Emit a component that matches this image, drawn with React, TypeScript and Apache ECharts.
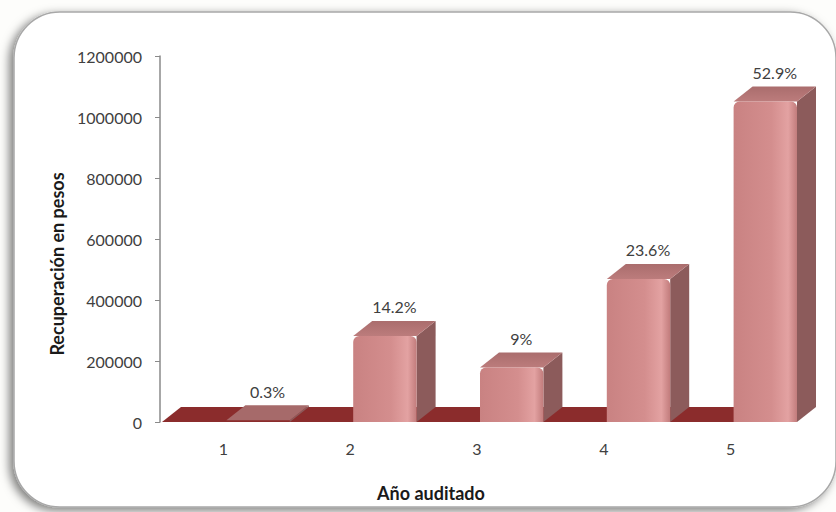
import React, { useEffect, useRef } from "react";
import * as echarts from "echarts";

const categories = ["1", "2", "3", "4", "5"];
const values = [6000, 282000, 179000, 469000, 1051000];
const percentLabels = ["0.3%", "14.2%", "9%", "23.6%", "52.9%"];
const yMin = 0;
const yMax = 1200000;
const yInterval = 200000;
const xTitle = "Año auditado";
const yTitle = "Recuperación en pesos";

const FONT = "Lato, 'Open Sans', sans-serif";
const DX = 19;
const DY = 15;

export default function App() {
  const ref = useRef<HTMLDivElement>(null);

  useEffect(() => {
    if (!ref.current) return;
    const chart = echarts.init(ref.current, null, { renderer: "svg" });

    const frontGrad = new echarts.graphic.LinearGradient(0, 0, 1, 0, [
      { offset: 0, color: "#C98282" },
      { offset: 0.6, color: "#D48E8E" },
      { offset: 0.86, color: "#E3A2A2" },
      { offset: 1, color: "#C27C7C" },
    ]);
    const topGrad = new echarts.graphic.LinearGradient(0, 1, 0, 0, [
      { offset: 0, color: "#BC7C7C" },
      { offset: 1, color: "#AA6D6D" },
    ]);

    const option: any = {
      animation: false,
      backgroundColor: "#fdfdfb",
      graphic: [
        {
          type: "rect",
          z: -10,
          shape: { x: 14, y: 12, width: 822, height: 495, r: 46 },
          style: {
            fill: "#ffffff",
            stroke: "#a8a8a8",
            lineWidth: 1.5,
            shadowBlur: 10,
            shadowColor: "rgba(0,0,0,0.5)",
            shadowOffsetX: -4,
            shadowOffsetY: 3,
          },
        },
        {
          type: "text",
          x: 57,
          y: 264,
          rotation: Math.PI / 2,
          style: {
            text: yTitle,
            align: "center",
            verticalAlign: "middle",
            font: `bold 18px ${FONT}`,
            fill: "#1a1a1a",
          },
        },
        {
          type: "text",
          x: 431,
          y: 493,
          style: {
            text: xTitle,
            align: "center",
            verticalAlign: "middle",
            font: `bold 18px ${FONT}`,
            fill: "#1a1a1a",
          },
        },
      ],
      grid: { left: 160, right: 42, top: 56, bottom: 90 },
      xAxis: {
        type: "category",
        data: categories,
        axisLine: { show: false },
        axisTick: { show: false },
        axisLabel: {
          margin: 18,
          fontFamily: FONT,
          fontSize: 16,
          color: "#404040",
        },
      },
      yAxis: {
        type: "value",
        min: yMin,
        max: yMax,
        interval: yInterval,
        splitLine: { show: false },
        axisLine: { show: true, lineStyle: { color: "#8a8a8a", width: 1.5 } },
        axisTick: { show: true, length: 5, lineStyle: { color: "#8a8a8a" } },
        axisLabel: {
          margin: 18,
          fontFamily: FONT,
          fontSize: 16,
          color: "#404040",
          formatter: (v: number) => String(v),
        },
      },
      series: [
        {
          type: "custom",
          z: 1,
          data: [[0, 0]],
          renderItem: (params: any, api: any) => {
            const cs = params.coordSys;
            const yb = cs.y + cs.height;
            const x0 = cs.x + 2;
            const x1 = cs.x + cs.width;
            return {
              type: "polygon",
              shape: {
                points: [
                  [x0, yb],
                  [x1, yb],
                  [x1 + DX, yb - DY],
                  [x0 + DX, yb - DY],
                ],
              },
              style: { fill: "#8B2C2C" },
            };
          },
        },
        {
          type: "custom",
          z: 2,
          data: values.map((v, i) => [i, v]),
          renderItem: (params: any, api: any) => {
            const i = api.value(0);
            const v = api.value(1);
            const base = api.coord([i, 0]);
            const top = api.coord([i, v]);
            const band = api.size([1, 0])[0];
            const w = band * 0.5;
            const x0 = base[0] + 3;
            const x1 = x0 + w;
            const yb = base[1];
            const yt = Math.min(top[1], yb - 1);
            const h = yb - yt;
            const children: any[] = [];
            children.push({
              type: "polygon",
              shape: {
                points: [
                  [x1, yt],
                  [x1 + DX, yt - DY],
                  [x1 + DX, yb - DY],
                  [x1, yb],
                ],
              },
              style: { fill: "#8C5B5B" },
            });
            children.push({
              type: "polygon",
              shape: {
                points: [
                  [x0, yt],
                  [x0 + DX, yt - DY],
                  [x1 + DX, yt - DY],
                  [x1, yt],
                ],
              },
              style: { fill: h > 4 ? topGrad : "#A66A6A" },
            });
            if (h > 4) {
              children.push({
                type: "rect",
                shape: { x: x0, y: yt, width: w, height: h, r: [6, 6, 0, 0] },
                style: { fill: frontGrad },
              });
            }
            children.push({
              type: "text",
              style: {
                text: percentLabels[i],
                x: x0 + w / 2 + DX / 2,
                y: yt - DY - 14,
                align: "center",
                verticalAlign: "middle",
                font: `16px ${FONT}`,
                fill: "#404040",
              },
            });
            return { type: "group", children };
          },
        },
      ],
    };

    chart.setOption(option);
    return () => chart.dispose();
  }, []);

  return (
    <div
      ref={ref}
      style={{ position: "absolute", left: 0, top: 0, width: 836, height: 512 }}
    />
  );
}
